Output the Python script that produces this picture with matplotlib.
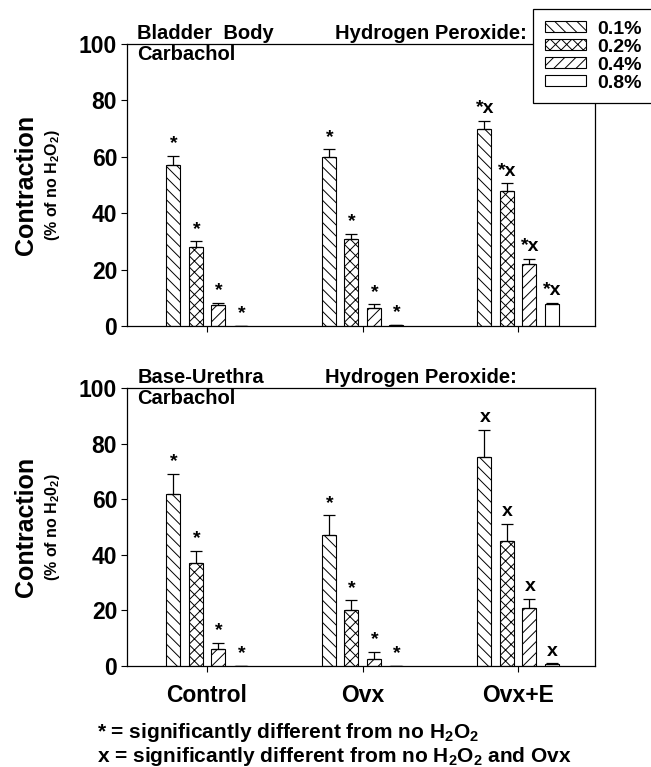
import numpy as np
import matplotlib
matplotlib.use("Agg")
import matplotlib.pyplot as plt
from matplotlib.patches import Patch

plt.rcParams["font.family"] = ["Liberation Sans", "DejaVu Sans"]
plt.rcParams["mathtext.default"] = "regular"
plt.rcParams["hatch.linewidth"] = 0.7

groups = ["Control", "Ovx", "Ovx+E"]
concentrations = ["0.1%", "0.2%", "0.4%", "0.8%"]
hatches = ["\\\\\\", "xxx", "///", ""]

# bladder body, rows = group, cols = concentration
body_mean = [
    [57, 28, 7.5, 0],
    [60, 31, 6.3, 0.4],
    [70, 48, 22, 7.8],
]
body_err = [
    [3.2, 2.0, 0.7, 0],
    [2.6, 1.7, 1.4, 0],
    [2.7, 2.6, 1.9, 0.5],
]
body_marks = [
    ["*", "*", "*", "*"],
    ["*", "*", "*", "*"],
    ["*x", "*x", "*x", "*x"],
]

# base-urethra
urethra_mean = [
    [62, 37, 6, 0],
    [47, 20, 2.4, 0],
    [75, 45, 21, 0.7],
]
urethra_err = [
    [7, 4.4, 2.2, 0],
    [7.2, 3.6, 2.6, 0],
    [10, 6.2, 3.1, 0.3],
]
urethra_marks = [
    ["*", "*", "*", "*"],
    ["*", "*", "*", "*"],
    ["x", "x", "x", "x"],
]

bar_step = 0.145
bar_width = 0.09


def draw_panel(ax, means, errs, marks, title, hp_x, ylabel_sub):
    means = np.array(means)
    errs = np.array(errs)
    centers = np.arange(len(groups))
    for j in range(len(concentrations)):
        x = centers + (j - 1.5) * bar_step
        ax.bar(x, means[:, j], width=bar_width, color="white",
               edgecolor="black", linewidth=0.8, hatch=hatches[j], zorder=2)
        ax.errorbar(x, means[:, j], yerr=[np.zeros(len(x)), errs[:, j]],
                    fmt="none", ecolor="black", elinewidth=0.9,
                    capsize=4, capthick=0.9, zorder=3)
        for i in range(len(groups)):
            ax.text(x[i] + 0.005, means[i, j] + errs[i, j] + 1.3, marks[i][j],
                    ha="center", va="bottom", fontsize=14, fontweight="bold")

    ax.set_xlim(-0.515, 2.495)
    ax.set_ylim(0, 100)
    ax.set_yticks([0, 20, 40, 60, 80, 100])
    ax.set_xticks(centers)
    ax.tick_params(axis="y", labelsize=16.5, length=4, width=0.8, pad=3)
    ax.tick_params(axis="x", length=4, width=0.8, labelbottom=False)
    for lab in ax.get_yticklabels():
        lab.set_fontweight("bold")
    for s in ax.spines.values():
        s.set_linewidth(0.9)

    ax.text(0.022, 1.005, title, transform=ax.transAxes, ha="left",
            va="bottom", fontsize=14.5, fontweight="bold")
    ax.text(0.022, 0.995, "Carbachol", transform=ax.transAxes, ha="left",
            va="top", fontsize=14.5, fontweight="bold")
    ax.text(hp_x, 1.005, "Hydrogen Peroxide:", transform=ax.transAxes,
            ha="left", va="bottom", fontsize=14.5, fontweight="bold")

    pos = ax.get_position()
    yc = pos.y0 + pos.height * 0.5
    fig = ax.figure
    fig.text(0.04, yc, "Contraction", rotation=90, ha="center",
             va="center", fontsize=18, fontweight="bold")
    fig.text(0.081, yc, ylabel_sub, rotation=90, ha="center",
             va="center", fontsize=11.5, fontweight="bold")


fig = plt.figure(figsize=(6.51, 7.67), dpi=100)
ax1 = fig.add_axes([0.195, 0.575, 0.719, 0.3677])
ax2 = fig.add_axes([0.195, 0.1317, 0.719, 0.3625])

draw_panel(ax1, body_mean, body_err, body_marks, "Bladder  Body", 0.444,
           "(% of no H$_2$O$_2$)")
draw_panel(ax2, urethra_mean, urethra_err, urethra_marks, "Base-Urethra",
           0.423, "(% of no H$_2$0$_2$)")

ax2.set_xticks(np.arange(len(groups)))
ax2.set_xticklabels(groups)
ax2.tick_params(axis="x", labelbottom=True, labelsize=16.5, pad=9)
for lab in ax2.get_xticklabels():
    lab.set_fontweight("bold")

handles = [Patch(facecolor="white", edgecolor="black", linewidth=0.8,
                 hatch=h, label=c) for h, c in zip(hatches, concentrations)]
leg = fig.legend(handles=handles, loc="upper left",
                 bbox_to_anchor=(533 / 651, 1 - 9 / 767),
                 prop={"size": 14, "weight": "bold"}, frameon=True,
                 fancybox=False, framealpha=1, edgecolor="black",
                 handlelength=2.1, handleheight=0.5, labelspacing=0.05,
                 borderpad=0.6, handletextpad=0.6, borderaxespad=0)
leg.get_frame().set_linewidth(0.9)

fig.text(97 / 651, 1 - 733 / 767,
         "* = significantly different from no H$_2$O$_2$",
         ha="left", va="center", fontsize=15, fontweight="bold")
fig.text(97 / 651, 1 - 757 / 767,
         "x = significantly different from no H$_2$O$_2$ and Ovx",
         ha="left", va="center", fontsize=15, fontweight="bold")

fig.savefig("out.png", dpi=100)
